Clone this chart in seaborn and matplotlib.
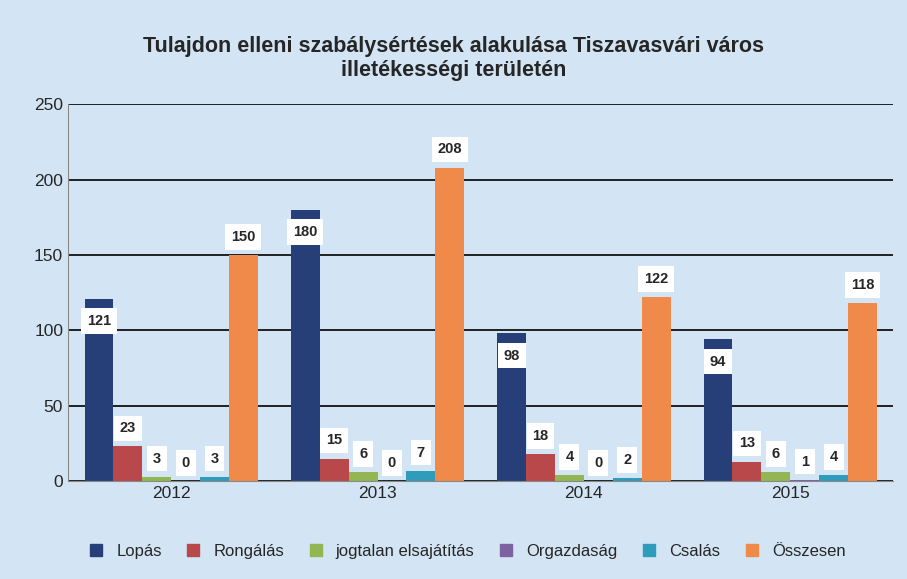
import matplotlib.pyplot as plt
import pandas as pd
import seaborn as sns

# Adatok
evek = ['2012', '2013', '2014', '2015']
sorozatok = ['Lopás', 'Rongálás', 'jogtalan elsajátítás', 'Orgazdaság', 'Csalás', 'Összesen']
lopas = [121, 180, 98, 94]
rongalas = [23, 15, 18, 13]
jogtalan = [3, 6, 4, 6]
orgazdasag = [0, 0, 0, 1]
csalas = [3, 7, 2, 4]
osszesen = [150, 208, 122, 118]
szinek = ['#263f78', '#b9484a', '#93b552', '#7d62a0', '#2f9cbc', '#f08a4b']

ertekek = [lopas, rongalas, jogtalan, orgazdasag, csalas, osszesen]
sorok = []
for nev, vals in zip(sorozatok, ertekek):
    for ev, v in zip(evek, vals):
        sorok.append({'Év': ev, 'Sorozat': nev, 'Érték': v})
df = pd.DataFrame(sorok)

sns.set_style('white')
plt.rcParams['font.family'] = ['Liberation Sans', 'DejaVu Sans']

hatter = '#d3e5f4'
fig = plt.figure(figsize=(9.07, 5.79), dpi=100)
fig.patch.set_facecolor(hatter)
ax = fig.add_axes([0.075, 0.169, 0.91, 0.651])
ax.set_facecolor(hatter)

sns.barplot(data=df, x='Év', y='Érték', hue='Sorozat', hue_order=sorozatok,
            palette=szinek, width=0.84, saturation=1, linewidth=0, ax=ax, legend=False)

# Ertek cimkek feher dobozban
for i, cont in enumerate(ax.containers):
    for bar in cont:
        h = bar.get_height()
        x = bar.get_x() + bar.get_width() / 2
        off = -16 if i == 0 else 13
        ax.annotate(f'{int(h)}', (x, h), xytext=(0, off), textcoords='offset points',
                    ha='center', va='center', fontsize=10.5, fontweight='bold',
                    bbox=dict(boxstyle='square,pad=0.4', fc='white', ec='none'))

ax.set_ylim(0, 250)
ax.set_yticks(range(0, 251, 50))
ax.yaxis.grid(True, color='black', linewidth=1.2)
ax.set_axisbelow(True)
ax.set_xlabel('')
ax.set_ylabel('')
ax.tick_params(axis='both', labelsize=12.5, length=0)
for s in ['top', 'right']:
    ax.spines[s].set_visible(False)
ax.spines['left'].set_color('#888888')
ax.spines['bottom'].set_color('#888888')

fig.suptitle('Tulajdon elleni szabálysértések alakulása Tiszavasvári város\nilletékességi területén',
             y=0.938, fontsize=15.5, fontweight='bold', linespacing=1.2)

kezelok = [plt.Line2D([], [], marker='s', linestyle='', color=c, markersize=8) for c in szinek]
fig.legend(kezelok, sorozatok, loc='center', bbox_to_anchor=(0.51, 0.048), ncol=6,
           frameon=False, fontsize=12, handletextpad=0.2, columnspacing=0.9)

plt.savefig('out.png', dpi=100, facecolor=hatter)
